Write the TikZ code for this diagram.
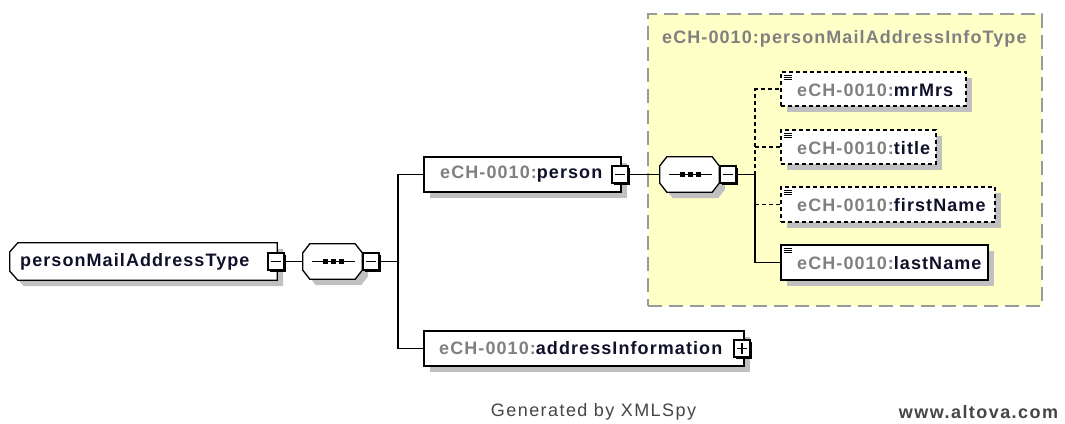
\documentclass[tikz,border=0pt]{standalone}
\usepackage{fontspec}
\setmainfont{Liberation Sans}[LetterSpace=6]
\usetikzlibrary{shadows}
\definecolor{prefixgray}{HTML}{808080}
\definecolor{namedark}{HTML}{10102A}
\definecolor{groupfill}{HTML}{FFFFC8}
\definecolor{groupline}{HTML}{9A9A9A}
\definecolor{shadowgray}{HTML}{C0C0C0}
\definecolor{footgray}{HTML}{454545}
\newcommand\pfx{\textcolor{prefixgray}{eCH-0010:}}
% outline of a complex type: left corners cut off
\newcommand\typeoutline[1]{([xshift=8pt]#1.north west) -- (#1.north east) -- (#1.south east)
  -- ([xshift=8pt]#1.south west) -- ([yshift=9pt]#1.south west) -- ([yshift=-9pt]#1.north west) -- cycle}
% outline of a sequence compositor: all corners cut off
\newcommand\seqoutline[1]{([xshift=7pt]#1.north west) -- ([xshift=-7pt]#1.north east)
  -- ([yshift=-9pt]#1.north east) -- ([yshift=9pt]#1.south east)
  -- ([xshift=-7pt]#1.south east) -- ([xshift=7pt]#1.south west)
  -- ([yshift=9pt]#1.south west) -- ([yshift=-9pt]#1.north west) -- cycle}
% the "three dots on a line" sign of a sequence
\newcommand\seqsign[1]{%
  \draw[line width=1.3pt] ([xshift=-21pt]#1.center) -- ([xshift=22pt]#1.center);
  \foreach \dx in {-7,1,9}{
    \fill ([xshift=\dx pt]#1.center) +(-2.6pt,-2.6pt) rectangle +(2.6pt,2.6pt);}}

\begin{document}
\begin{tikzpicture}[x=1pt,y=-1pt,
  boxshadow/.style={drop shadow={shadow xshift=6pt,shadow yshift=-6pt,fill=shadowgray,opacity=1}},
  elembox/.style={rectangle,draw=black,line width=1.3pt,fill=white,inner sep=0pt,boxshadow},
  optbox/.style={elembox,dash pattern=on 4pt off 3pt},
  docicon/.style={path picture={
      \foreach \k in {0,1,2}{
        \draw[solid,line width=1pt]
          ([shift={(2.5pt,-3pt-\k*2.4pt)}]path picture bounding box.north west) -- ++(8pt,0);}}},
  frame/.style={rectangle,draw=none,inner sep=0pt},
  outline/.style={draw=black,line width=1.3pt,fill=white},
  shadowfill/.style={fill=shadowgray},
  togglebase/.style={rectangle,draw=black,line width=1.3pt,fill=white,inner sep=0pt,
      minimum width=16pt,minimum height=17pt,
      drop shadow={shadow xshift=2.2pt,shadow yshift=-2.2pt,fill=black,opacity=1}},
  minusbox/.style={togglebase,path picture={
      \draw[line width=1.4pt] ([xshift=3pt]path picture bounding box.west)
          -- ([xshift=-3pt]path picture bounding box.east);}},
  plusbox/.style={togglebase,path picture={
      \draw[line width=1.4pt] ([xshift=3pt]path picture bounding box.west)
          -- ([xshift=-3pt]path picture bounding box.east);
      \draw[line width=1.4pt] ([yshift=-3pt]path picture bounding box.north)
          -- ([yshift=3pt]path picture bounding box.south);}},
  group/.style={rectangle,draw=groupline,fill=groupfill,line width=1.3pt,
      dash pattern=on 14pt off 7pt,inner sep=0pt},
  lbl/.style={anchor=west,inner sep=0pt,text=namedark,font=\bfseries\fontsize{18}{20}\selectfont},
  conn/.style={line width=1.3pt},
  optconn/.style={conn,dash pattern=on 4pt off 3pt},
  foot/.style={inner sep=0pt,text=footgray,font=\fontsize{18}{20}\selectfont\addfontfeatures{LetterSpace=8}}
]
\useasboundingbox (0,0) rectangle (1065,423);

% group of the referenced complex type
\node[group,minimum width=394pt,minimum height=292pt] (grp) at (845,160) {};
\node[lbl,text=prefixgray] (grptitle) at (662,39) {eCH-0010:personMailAddressInfoType};

% root type
\node[frame,minimum width=267pt,minimum height=37pt] (rootsh) at (149.5,267.5) {};
\node[frame,minimum width=267pt,minimum height=37pt] (root) at (143.5,261.5) {};
\fill[shadowfill] \typeoutline{rootsh};
\draw[outline] \typeoutline{root};
\node[lbl] (rootlbl) at (20,261.5) {personMailAddressType};
\node[minusbox] (rootT) at (276,261.5) {};

% its sequence
\node[frame,minimum width=59pt,minimum height=35pt] (seqAsh) at (338.5,267.5) {};
\node[frame,minimum width=59pt,minimum height=35pt] (seqA) at (332.5,261.5) {};
\fill[shadowfill] \seqoutline{seqAsh};
\draw[outline] \seqoutline{seqA};
\seqsign{seqA}
\node[minusbox] (seqAT) at (371,261.5) {};
\coordinate (trunkA) at (398,261.5);

% person element and its sequence
\node[elembox,minimum width=197pt,minimum height=35pt] (person) at (522.5,174.5) {};
\node[lbl] (personlbl) at (440,174.5) {\pfx person};
\node[minusbox] (personT) at (620,174.5) {};
\node[frame,minimum width=59pt,minimum height=35pt] (seqBsh) at (695.5,180.5) {};
\node[frame,minimum width=59pt,minimum height=35pt] (seqB) at (689.5,174.5) {};
\fill[shadowfill] \seqoutline{seqBsh};
\draw[outline] \seqoutline{seqB};
\seqsign{seqB}
\node[minusbox] (seqBT) at (728,174.5) {};
\coordinate (trunkB) at (755,174.5);

% addressInformation element
\node[elembox,minimum width=320pt,minimum height=35pt] (addr) at (584,348.5) {};
\node[lbl] (addrlbl) at (439,348.5) {\pfx addressInformation};
\node[plusbox] (addrT) at (742,348.5) {};

% children of the inner sequence
\node[optbox,docicon,minimum width=185pt,minimum height=34pt] (mrmrs) at (873.5,89) {};
\node[lbl] (mrmrslbl) at (797,90) {\pfx mrMrs};
\node[optbox,docicon,minimum width=155pt,minimum height=34pt] (title) at (858.5,147) {};
\node[lbl] (titlelbl) at (797,148) {\pfx title};
\node[optbox,docicon,minimum width=214pt,minimum height=35pt] (first) at (888,204.5) {};
\node[lbl] (firstlbl) at (797,205.5) {\pfx firstName};
\node[elembox,docicon,minimum width=207pt,minimum height=35pt] (last) at (884.5,262.5) {};
\node[lbl] (lastlbl) at (797,263.5) {\pfx lastName};

% connectors
\draw[conn] (rootT.east) -- (seqA.west);
\draw[conn] (seqAT.east) -- (trunkA);
\draw[conn] (trunkA) |- (person.west);
\draw[conn] (trunkA) |- (addr.west);
\draw[conn] (personT.east) -- (seqB.west);
\draw[conn] (seqBT.east) -- (trunkB);
\draw[optconn] (trunkB) |- (mrmrs.west);
\draw[optconn] (title.west -| trunkB) -- (title.west);
\draw[optconn] (first.west -| trunkB) -- (first.west);
\draw[conn] (trunkB) |- (last.west);

% footer
\node[foot] (gen) at (593.5,412) {Generated by XMLSpy};
\node[foot,font=\bfseries\fontsize{18}{20}\selectfont\addfontfeatures{LetterSpace=8}] (site) at (978.5,412) {www.altova.com};
\end{tikzpicture}
\end{document}
